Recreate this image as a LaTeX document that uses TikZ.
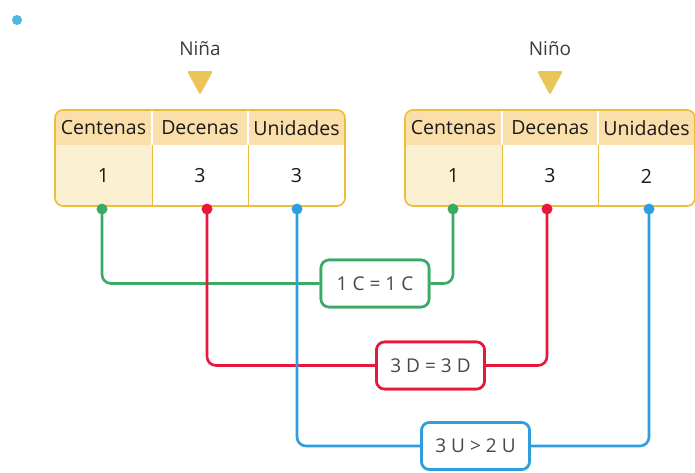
\documentclass[tikz,border=0pt]{standalone}
\usepackage{fontspec}
\setmainfont{Open Sans}
\definecolor{gold}{HTML}{EBBE3A}
\definecolor{headfill}{HTML}{FBDFAB}
\definecolor{cream}{HTML}{FCF0D2}
\definecolor{tri}{HTML}{EBC55A}
\definecolor{cgreen}{HTML}{3AAA66}
\definecolor{cred}{HTML}{E8183C}
\definecolor{cblue}{HTML}{2E9FDC}
\definecolor{sky}{HTML}{4DB9E2}
\definecolor{txt}{HTML}{1A1A1A}
\newcommand{\gp}{\hspace{5pt}}
\tikzset{
  hdr/.style={font=\fontsize{19.5}{22}\selectfont, text=txt},
  val/.style={font=\fontsize{19.5}{22}\selectfont, text=txt},
  lbl/.style={font=\fontsize{19}{22}\selectfont, text=txt!85},
  cmp/.style={draw, line width=2.6pt, rounded corners=8pt, fill=white, minimum width=108pt, minimum height=47pt, inner sep=0pt, font=\fontsize{19}{22}\selectfont, text=txt!80},
  conn/.style={line width=2.6pt, rounded corners=9pt},
}
\begin{document}
\begin{tikzpicture}[x=1pt,y=-1pt]
\useasboundingbox (0,0) rectangle (695,472);
\fill[sky] (17,20) circle (5);
% labels and triangles
\node[lbl] (nina) at (200,49) {Niña};
\node[lbl] (nino) at (550,49) {Niño};
\fill[tri, rounded corners=1.5pt] (187,71) -- (213,71) -- (200,95) -- cycle;
\fill[tri, rounded corners=1.5pt] (537,71) -- (563,71) -- (550,95) -- cycle;
% tables
\foreach \ox in {0,350}{
  \begin{scope}[xshift=\ox]
    \begin{scope}
      \clip[rounded corners=8pt] (55,110) rectangle (345,206);
      \fill[headfill] (55,110) rectangle (345,145);
      \fill[cream] (55,145) rectangle (152,206);
      \draw[white, line width=1.4pt] (152,110) -- (152,145) (248,110) -- (248,145);
      \draw[gold, line width=1pt] (152,145) -- (152,206) (248,145) -- (248,206);
    \end{scope}
    \draw[gold, line width=1.6pt, rounded corners=8pt] (55,110) rectangle (345,206);
  \end{scope}
}
\node[hdr] (lh1) at (103.5,128) {Centenas};
\node[hdr] (lh2) at (200,128) {Decenas};
\node[hdr] (lh3) at (296.5,128) {Unidades};
\node[val] (lv1) at (103.5,176) {1};
\node[val] (lv2) at (200,176) {3};
\node[val] (lv3) at (296.5,176) {3};
\node[hdr] (rh1) at (453.5,128) {Centenas};
\node[hdr] (rh2) at (550,128) {Decenas};
\node[hdr] (rh3) at (646.5,128) {Unidades};
\node[val] (rv1) at (453.5,176) {1};
\node[val] (rv2) at (550,176) {3};
\node[val] (rv3) at (646.5,176) {2};
% dots
\coordinate (dLC) at (102,209);
\coordinate (dLD) at (207,209);
\coordinate (dLU) at (297,209);
\coordinate (dRC) at (453,209);
\coordinate (dRD) at (547,209);
\coordinate (dRU) at (649,209);
% comparison boxes
\node[cmp, draw=cgreen] (bC) at (375,283.5) {1\gp C\gp =\gp 1\gp C};
\node[cmp, draw=cred] (bD) at (430.5,365.5) {3\gp D\gp =\gp 3\gp D};
\node[cmp, draw=cblue] (bU) at (475.5,446) {3\gp U\gp >\gp 2\gp U};
% connectors
\draw[conn, cgreen] (dLC) |- (bC.west);
\draw[conn, cgreen] (bC.east) -| (dRC);
\draw[conn, cred] (dLD) |- (bD.west);
\draw[conn, cred] (bD.east) -| (dRD);
\draw[conn, cblue] (dLU) |- (bU.west);
\draw[conn, cblue] (bU.east) -| (dRU);
\node[cmp, draw=cgreen] at (bC) {1\gp C\gp =\gp 1\gp C};
\node[cmp, draw=cred] at (bD) {3\gp D\gp =\gp 3\gp D};
\node[cmp, draw=cblue] at (bU) {3\gp U\gp >\gp 2\gp U};
\foreach \d/\c in {dLC/cgreen,dLD/cred,dLU/cblue,dRC/cgreen,dRD/cred,dRU/cblue}{
  \fill[\c] (\d) circle (5.5pt);
}
\end{tikzpicture}
\end{document}
